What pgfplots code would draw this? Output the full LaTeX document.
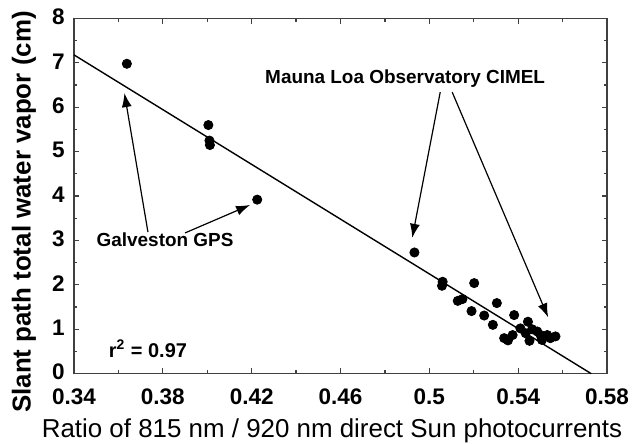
\documentclass[border=0pt]{standalone}
\usepackage{fontspec}
\setmainfont{Liberation Sans}
\usepackage{pgfplots}
\pgfplotsset{compat=1.18}
\usetikzlibrary{arrows.meta}
\begin{document}
\begin{tikzpicture}
\begin{axis}[
  scale only axis, width=266.5bp, height=177.6bp,
  xmin=0.34, xmax=0.58, ymin=0, ymax=8,
  xtick={0.34,0.38,0.42,0.46,0.50,0.54,0.58},
  xticklabels={0.34,0.38,0.42,0.46,0.5,0.54,0.58},
  minor xtick={0.36,0.40,0.44,0.48,0.52,0.56},
  ytick={0,1,2,3,4,5,6,7,8},
  minor ytick={0.5,1.5,2.5,3.5,4.5,5.5,6.5,7.5},
  tick pos=both, tick align=inside,
  major tick length=2.6bp, minor tick length=1.6bp,
  axis line style={black!75, line width=0.8bp},
  every tick/.style={black!75, line width=0.6bp},
  ticklabel style={font=\fontsize{11.3}{12}\selectfont\bfseries},
  /pgf/number format/assume math mode=true,
  xticklabel style={yshift=-3.8bp},
  yticklabel style={xshift=-1.2bp, yshift=0.8bp},
  xlabel={Ratio of 815 nm / 920 nm direct Sun photocurrents},
  xlabel style={font=\fontsize{13}{15}\selectfont, at={(axis description cs:0.484,-0.162)}, anchor=center},
  ylabel={Slant path total water vapor (cm)},
  ylabel style={font=\fontsize{13}{15}\selectfont\bfseries, at={(axis description cs:-0.094,0.455)}, anchor=center, rotate=0},
  clip=false,
]
\addplot[black, line width=0.7bp] coordinates {(0.34,7.18) (0.5729,0)};
\addplot[only marks, mark=*, mark size=2.3bp, black] table {
x y
0.3638 6.98
0.4005 5.60
0.4010 5.25
0.4012 5.15
0.4225 3.92
0.4933 2.73
0.5060 2.07
0.5057 1.98
0.5202 2.04
0.5128 1.64
0.5149 1.68
0.5304 1.59
0.5190 1.41
0.5247 1.31
0.5286 1.10
0.5382 1.32
0.5444 1.17
0.5410 1.02
0.5463 1.00
0.5486 0.95
0.5434 0.91
0.5375 0.87
0.5337 0.80
0.5501 0.87
0.5531 0.87
0.5568 0.84
0.5507 0.76
0.5545 0.80
0.5451 0.74
0.5354 0.75
};
\draw[-{Latex[length=7bp,width=5bp]}, line width=0.6bp] (axis cs:0.3733,3.19) -- (axis cs:0.3627,6.32);
\draw[-{Latex[length=7bp,width=5bp]}, line width=0.6bp] (axis cs:0.3900,3.17) -- (axis cs:0.4193,3.80);
\draw[-{Latex[length=7bp,width=5bp]}, line width=0.6bp] (axis cs:0.5049,6.34) -- (axis cs:0.4923,3.06);
\draw[-{Latex[length=7bp,width=5bp]}, line width=0.6bp] (axis cs:0.5103,6.34) -- (axis cs:0.5535,1.27);
\node[font=\fontsize{9.5}{11}\selectfont\bfseries] at (axis cs:0.4891,6.64) {Mauna Loa Observatory CIMEL};
\node[font=\fontsize{9.5}{11}\selectfont\bfseries] at (axis cs:0.381,3.01) {Galveston GPS};
\node[font=\fontsize{10}{11}\selectfont\bfseries] at (axis cs:0.3733,0.56) {r\textsuperscript{2} = 0.97};
\end{axis}
\pgfresetboundingbox
\path[use as bounding box] ([xshift=-37bp,yshift=-35.15bp]current axis.south west) rectangle ([xshift=17bp,yshift=9.25bp]current axis.north east);
\end{tikzpicture}
\end{document}
